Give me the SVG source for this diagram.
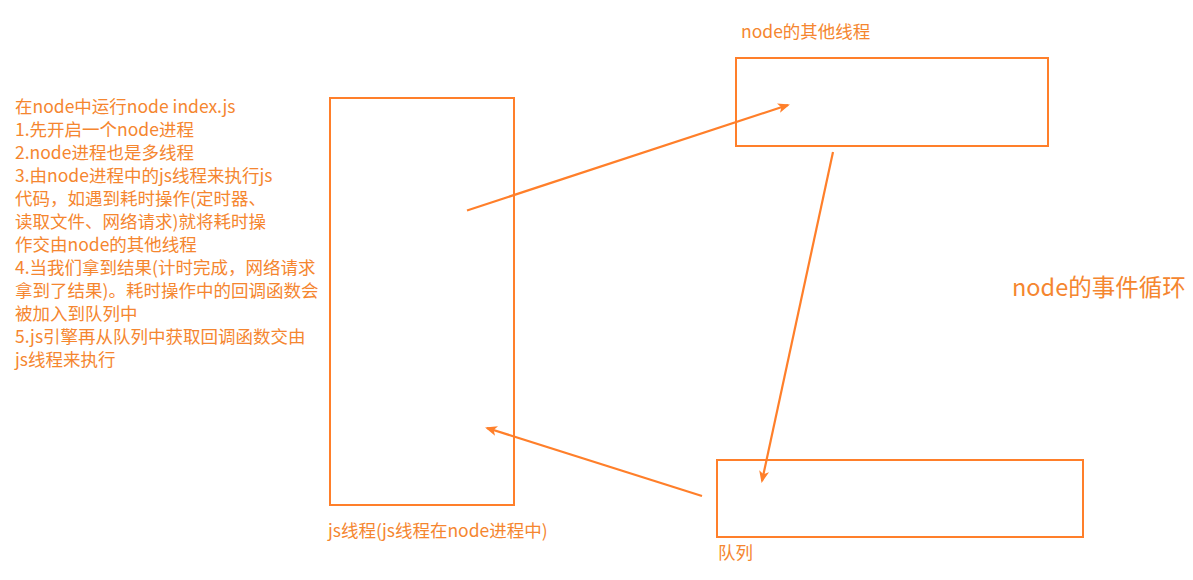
<svg xmlns="http://www.w3.org/2000/svg" width="1193" height="580" viewBox="0 0 1193 580">
<style>
.box{fill:none;stroke:#FF7F2A;stroke-width:2}
.conn{fill:none;stroke:#FF7F2A;stroke-width:2.2;marker-end:url(#arrow)}
text{font-family:"Noto Sans CJK SC","Liberation Sans",sans-serif;fill:#F5862F}
.t{font-size:17.5px}
.big{font-size:23.5px}
</style>
<defs>
<marker id="arrow" viewBox="0 0 12 10" refX="10" refY="5" markerWidth="12" markerHeight="10" markerUnits="userSpaceOnUse" orient="auto">
<path d="M0,0 L12,5 L0,10 L3,5 Z" fill="#FF7F2A"/>
</marker>
</defs>
<rect width="1193" height="580" fill="#fff"/>
<g id="notes">
<text class="t" x="15" y="113">在node中运行node index.js</text>
<text class="t" x="15" y="136">1.先开启一个node进程</text>
<text class="t" x="15" y="159">2.node进程也是多线程</text>
<text class="t" x="15" y="182">3.由node进程中的js线程来执行js</text>
<text class="t" x="15" y="205">代码，如遇到耗时操作(定时器、</text>
<text class="t" x="15" y="228">读取文件、网络请求)就将耗时操</text>
<text class="t" x="15" y="251">作交由node的其他线程</text>
<text class="t" x="15" y="274">4.当我们拿到结果(计时完成，网络请求</text>
<text class="t" x="15" y="297">拿到了结果)。耗时操作中的回调函数会</text>
<text class="t" x="15" y="320">被加入到队列中</text>
<text class="t" x="15" y="343">5.js引擎再从队列中获取回调函数交由</text>
<text class="t" x="15" y="366">js线程来执行</text>
</g>
<g id="js-thread">
<rect class="box" x="330" y="98" width="184" height="407"/>
<text class="t" x="328" y="537">js线程(js线程在node进程中)</text>
</g>
<g id="other-threads">
<rect class="box" x="736" y="58" width="312" height="88"/>
<text class="t" x="741" y="38">node的其他线程</text>
</g>
<g id="queue">
<rect class="box" x="717" y="460" width="366" height="77"/>
<text class="t" x="718" y="559">队列</text>
</g>
<g id="title">
<text class="big" x="1012" y="296">node的事件循环</text>
</g>
<g id="connectors">
<line class="conn" x1="467" y1="210.5" x2="788" y2="105"/>
<line class="conn" x1="833" y1="152" x2="762" y2="481"/>
<line class="conn" x1="702" y1="496" x2="487" y2="428"/>
</g>
</svg>
